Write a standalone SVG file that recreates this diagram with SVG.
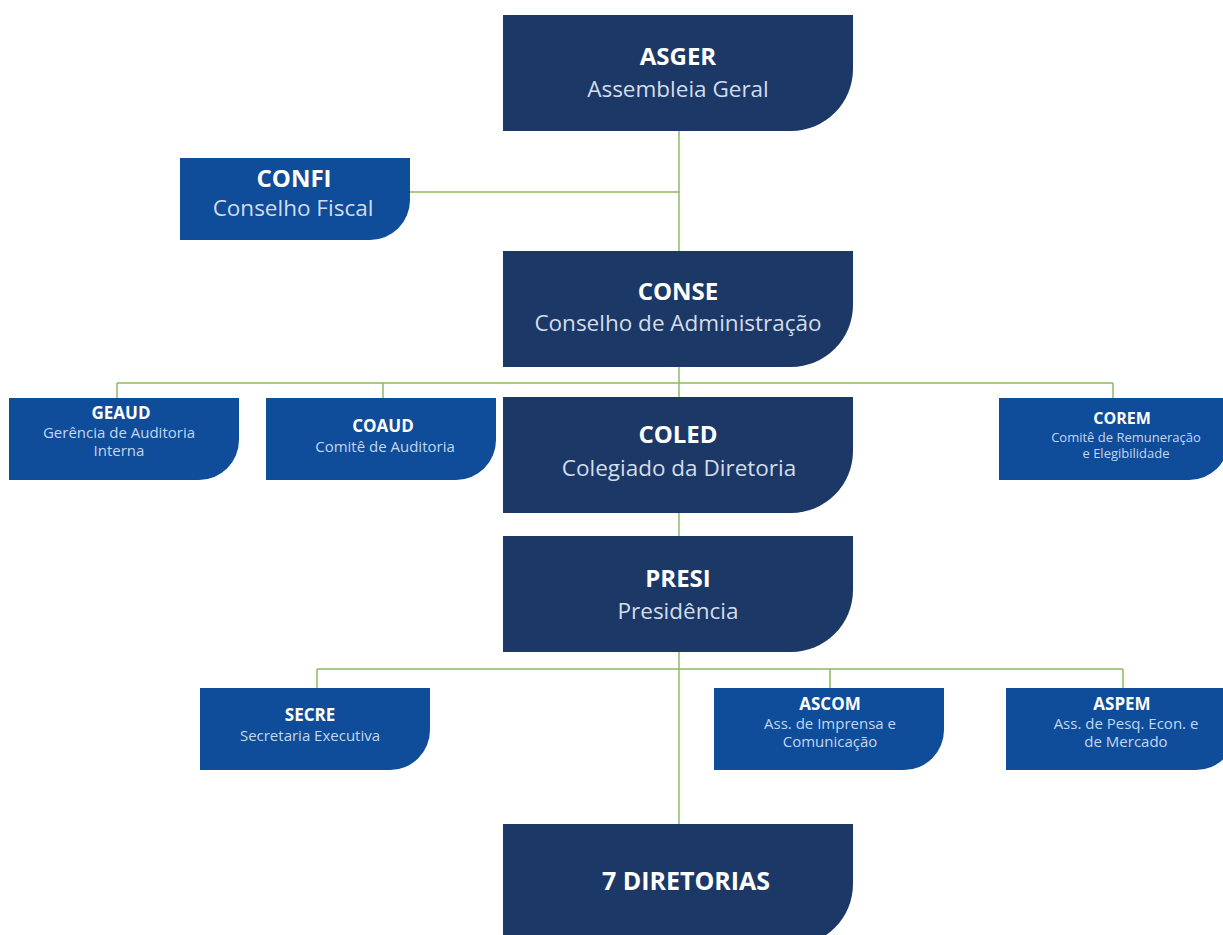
<svg xmlns="http://www.w3.org/2000/svg" width="1223" height="935" viewBox="0 0 1223 935">
<style>
.big{fill:#1b3867}
.sm{fill:#0f4c99}
.t{font-family:"Open Sans","Liberation Sans",sans-serif;font-weight:700;fill:#ffffff;text-anchor:middle}
.s{font-family:"Open Sans","Liberation Sans",sans-serif;font-weight:400;fill:#d3ddeb;text-anchor:middle}
.ss{font-family:"Open Sans","Liberation Sans",sans-serif;font-weight:400;fill:#c2d7f1;text-anchor:middle}
.tb{font-size:24px}
.sb{font-size:22.5px}
.ts{font-size:17px}
.sss{font-size:15px}
.c{fill:none;stroke:#8fbb5f;stroke-width:1.5}
</style>
<rect width="1223" height="935" fill="#ffffff"/>
<g id="connectors">
<path class="c" d="M679 131V824"/>
<path class="c" d="M410 192H679"/>
<path class="c" d="M117 383H1113M117 383V398M383 383V398M1113 383V398"/>
<path class="c" d="M317 669H1123M317 669V688M830 669V688M1123 669V688"/>
</g>
<g id="ASGER">
<path class="big" d="M503 15H853V69A62 62 0 0 1 791 131H503Z"/>
<text class="t tb" x="678" y="65">ASGER</text>
<text class="s sb" x="678" y="97">Assembleia Geral</text>
</g>
<g id="CONFI">
<path class="sm" d="M180 158H410V200A40 40 0 0 1 370 240H180Z"/>
<text class="t tb" x="294" y="187">CONFI</text>
<text class="s sb" x="293" y="216">Conselho Fiscal</text>
</g>
<g id="CONSE">
<path class="big" d="M503 251H853V305A62 62 0 0 1 791 367H503Z"/>
<text class="t tb" x="678" y="300">CONSE</text>
<text class="s sb" x="678" y="331">Conselho de Administração</text>
</g>
<g id="GEAUD">
<path class="sm" d="M9 398H239V440A40 40 0 0 1 199 480H9Z"/>
<text class="t ts" x="121" y="419">GEAUD</text>
<text class="ss sss" x="119" y="438">Gerência de Auditoria</text>
<text class="ss sss" x="119" y="456">Interna</text>
</g>
<g id="COAUD">
<path class="sm" d="M266 398H496V440A40 40 0 0 1 456 480H266Z"/>
<text class="t ts" x="383" y="432">COAUD</text>
<text class="ss sss" x="385" y="452">Comitê de Auditoria</text>
</g>
<g id="COLED">
<path class="big" d="M503 397H853V451A62 62 0 0 1 791 513H503Z"/>
<text class="t tb" x="678" y="443">COLED</text>
<text class="s sb" x="679" y="476">Colegiado da Diretoria</text>
</g>
<g id="COREM">
<path class="sm" d="M999 398H1229V440A40 40 0 0 1 1189 480H999Z"/>
<text class="t" style="font-size:16px" x="1122" y="424">COREM</text>
<text class="ss" style="font-size:13px" x="1126" y="442">Comitê de Remuneração</text>
<text class="ss" style="font-size:13px" x="1126" y="458">e Elegibilidade</text>
</g>
<g id="PRESI">
<path class="big" d="M503 536H853V590A62 62 0 0 1 791 652H503Z"/>
<text class="t tb" x="678" y="587">PRESI</text>
<text class="s sb" x="678" y="619">Presidência</text>
</g>
<g id="SECRE">
<path class="sm" d="M200 688H430V730A40 40 0 0 1 390 770H200Z"/>
<text class="t ts" x="310" y="721">SECRE</text>
<text class="ss sss" x="310" y="741">Secretaria Executiva</text>
</g>
<g id="ASCOM">
<path class="sm" d="M714 688H944V730A40 40 0 0 1 904 770H714Z"/>
<text class="t ts" x="830" y="710">ASCOM</text>
<text class="ss sss" x="830" y="729">Ass. de Imprensa e</text>
<text class="ss sss" x="830" y="747">Comunicação</text>
</g>
<g id="ASPEM">
<path class="sm" d="M1006 688H1236V730A40 40 0 0 1 1196 770H1006Z"/>
<text class="t ts" x="1122" y="710">ASPEM</text>
<text class="ss sss" x="1126" y="729">Ass. de Pesq. Econ. e</text>
<text class="ss sss" x="1126" y="747">de Mercado</text>
</g>
<g id="DIRETORIAS">
<path class="big" d="M503 824H853V884A62 62 0 0 1 791 946H503Z"/>
<text class="t" style="font-size:25px" x="686" y="890">7 DIRETORIAS</text>
</g>
</svg>
